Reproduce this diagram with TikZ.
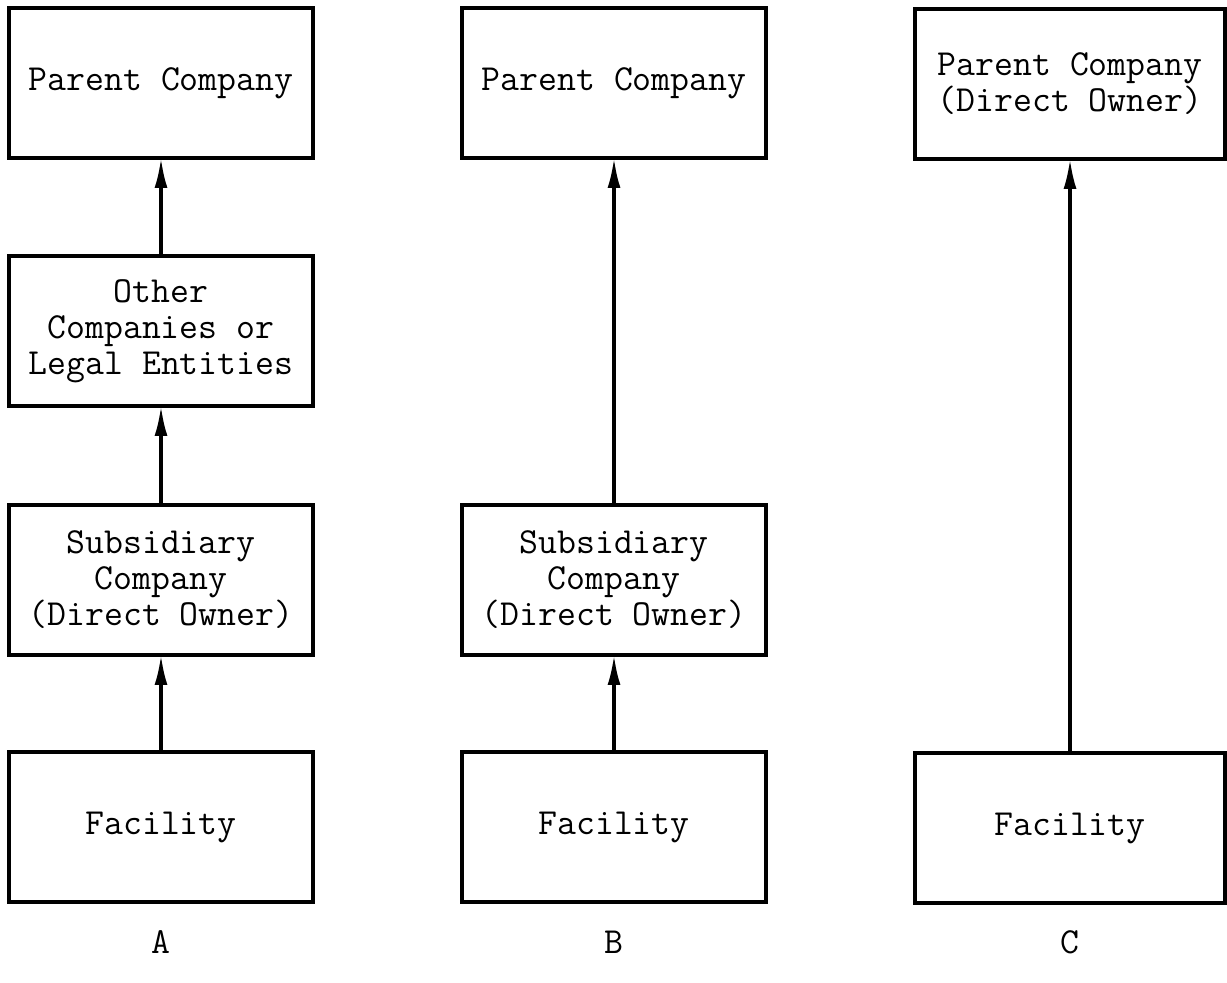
\documentclass[tikz,border=0pt]{standalone}
\usepackage{fontspec}
\usetikzlibrary{arrows.meta}

\begin{document}
\begin{tikzpicture}[x=0.02cm,y=-0.02cm,
    caja/.style={draw,line width=1.8pt,minimum width=6.08cm,minimum height=3cm,outer sep=0pt,
        align=center,font=\ttfamily\fontsize{20.9}{20.5}\selectfont,inner sep=2pt},
    flecha/.style={-{Latex[length=6mm,width=2.6mm]},line width=1.8pt},
    letra/.style={font=\ttfamily\fontsize{20.9}{20.5}\selectfont}]
    \useasboundingbox (0,0) rectangle (1227,983);

    % Columna A
    \node[caja] (padreA) at (161,83) {Parent Company};
    \node[caja] (otrasA) at (161,331) {Other\\Companies or\\Legal Entities};
    \node[caja] (subA) at (161,580) {Subsidiary\\Company\\(Direct Owner)};
    \node[caja] (instA) at (161,827) {Facility};
    \node[letra] (etiqA) at (161,942) {A};

    % Columna B
    \node[caja] (padreB) at (614,83) {Parent Company};
    \node[caja] (subB) at (614,580) {Subsidiary\\Company\\(Direct Owner)};
    \node[caja] (instB) at (614,827) {Facility};
    \node[letra] (etiqB) at (614,942) {B};

    % Columna C
    \node[caja,minimum width=6.2cm] (padreC) at (1070,84) {Parent Company\\(Direct Owner)};
    \node[caja,minimum width=6.2cm] (instC) at (1070,828) {Facility};
    \node[letra] (etiqC) at (1070,942) {C};

    % Flechas
    \draw[flecha] (instA) -- (subA);
    \draw[flecha] (subA) -- (otrasA);
    \draw[flecha] (otrasA) -- (padreA);
    \draw[flecha] (instB) -- (subB);
    \draw[flecha] (subB) -- (padreB);
    \draw[flecha] (instC) -- (padreC);
\end{tikzpicture}
\end{document}
